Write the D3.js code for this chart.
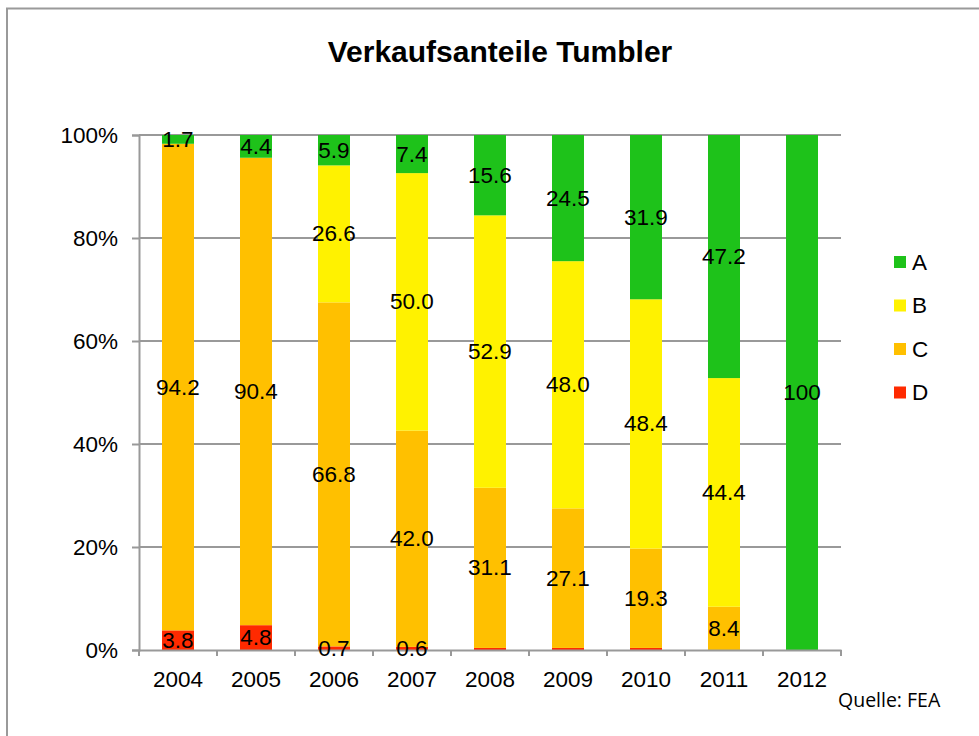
<!DOCTYPE html>
<html>
<head>
<meta charset="utf-8">
<script src="https://cdn.jsdelivr.net/npm/d3@7/dist/d3.min.js"></script>
<style>
    body { margin: 0; background: #fff; }
    svg text { font-family: "Liberation Sans", Arial, sans-serif; fill: #000; }
</style>
</head>
<body>
<div class="container"></div>
<script>
// chart values (percent shares per year)
var years = ["2004", "2005", "2006", "2007", "2008", "2009", "2010", "2011", "2012"];
var seriesNames = ["A", "B", "C", "D"];
var shareA = [1.7, 4.4, 5.9, 7.4, 15.6, 24.5, 31.9, 47.2, 100];
var shareB = [0, 0, 26.6, 50.0, 52.9, 48.0, 48.4, 44.4, 0];
var shareC = [94.2, 90.4, 66.8, 42.0, 31.1, 27.1, 19.3, 8.4, 0];
var shareD = [3.8, 4.8, 0.7, 0.6, 0.4, 0.4, 0.4, 0, 0];
var yTicks = [0, 0.2, 0.4, 0.6, 0.8, 1];
var seriesColors = ["#1ec21a", "#fff200", "#ffc000", "#ff2a00"];

var config = {
    width: 979,
    height: 736,
    plot: { left: 139, right: 841, top: 135, bottom: 650 },
    barWidth: 32,
    labelMin: 0.5,
    title: "Verkaufsanteile Tumbler",
    source: "Quelle: FEA"
};

var rows = years.map((year, i) => ({
    year: year,
    A: shareA[i],
    B: shareB[i],
    C: shareC[i],
    D: shareD[i]
}));

var color = d3.scaleOrdinal().domain(seriesNames).range(seriesColors);

// D at the bottom, A on top, every column scaled to 100%
var stacked = d3.stack()
    .keys(["D", "C", "B", "A"])
    .offset(d3.stackOffsetExpand)(rows);

var x = d3.scaleBand()
    .domain(years)
    .range([config.plot.left, config.plot.right])
    .padding(0);

var y = d3.scaleLinear()
    .domain([0, 1])
    .range([config.plot.bottom, config.plot.top]);

var svg = d3.select(".container").append("svg")
    .attr("width", config.width)
    .attr("height", config.height);

// outer chart frame
svg.append("rect")
    .attr("x", 7)
    .attr("y", 8.5)
    .attr("width", 1000)
    .attr("height", 1000)
    .attr("fill", "none")
    .attr("stroke", "#9a9a9a")
    .attr("stroke-width", 2);

svg.append("text")
    .attr("x", 500)
    .attr("y", 62)
    .attr("text-anchor", "middle")
    .style("font-size", "30px")
    .style("font-weight", "bold")
    .text(config.title);

// gridlines
svg.append("g")
    .selectAll("line")
    .data(yTicks.filter((d) => d > 0))
    .join("line")
    .attr("x1", config.plot.left)
    .attr("x2", config.plot.right)
    .attr("y1", (d) => y(d))
    .attr("y2", (d) => y(d))
    .attr("stroke", "#999")
    .attr("stroke-width", 2);

// bars
var layers = svg.append("g")
    .selectAll("g")
    .data(stacked)
    .join("g")
    .attr("fill", (d) => color(d.key));

layers.selectAll("rect")
    .data((d) => d)
    .join("rect")
    .attr("x", (d) => x(d.data.year) + (x.bandwidth() - config.barWidth) / 2)
    .attr("width", config.barWidth)
    .attr("y", (d) => y(d[1]))
    .attr("height", (d) => y(d[0]) - y(d[1]));

// y axis
var yAxis = svg.append("g")
    .attr("transform", `translate(${config.plot.left},0)`)
    .call(d3.axisLeft(y).tickValues(yTicks).tickFormat(d3.format(".0%")).tickSize(7).tickPadding(14));

// x axis
var xAxis = svg.append("g")
    .attr("transform", `translate(0,${config.plot.bottom})`)
    .call(d3.axisBottom(x).tickSize(0).tickPadding(21));

xAxis.selectAll(".boundary")
    .data(years.map((d) => x(d)).concat([config.plot.right]))
    .join("line")
    .attr("class", "boundary")
    .attr("x1", (d) => d)
    .attr("x2", (d) => d)
    .attr("y1", 0)
    .attr("y2", 6)
    .attr("stroke", "#999")
    .attr("stroke-width", 2);

[yAxis, xAxis].forEach((axis) => {
    axis.selectAll(".domain, .tick line").attr("stroke", "#999").attr("stroke-width", 2);
    axis.selectAll("text").style("font-size", "22.5px").style("font-family", "'Liberation Sans', Arial, sans-serif");
});

// data labels
var fmt = (v) => v >= 100 ? "100" : d3.format(".1f")(v);

var labels = svg.append("g");
stacked.forEach((layer) => {
    labels.selectAll(null)
        .data(layer.filter((d) => d.data[layer.key] >= config.labelMin))
        .join("text")
        .attr("x", (d) => x(d.data.year) + x.bandwidth() / 2)
        .attr("y", (d) => y((d[0] + d[1]) / 2))
        .attr("text-anchor", "middle")
        .attr("dominant-baseline", "central")
        .style("font-size", "22.5px")
        .text((d) => fmt(d.data[layer.key]));
});

// legend
var legend = svg.append("g")
    .selectAll("g")
    .data(seriesNames)
    .join("g")
    .attr("transform", (d, i) => `translate(894,${262 + i * 43.5})`);

legend.append("rect")
    .attr("x", 0)
    .attr("y", -6)
    .attr("width", 12)
    .attr("height", 12)
    .attr("fill", (d) => color(d));

legend.append("text")
    .attr("x", 18)
    .attr("y", 0)
    .attr("dominant-baseline", "central")
    .style("font-size", "22.5px")
    .text((d) => d);

svg.append("text")
    .attr("x", 838)
    .attr("y", 707)
    .style("font-family", "'Open Sans', sans-serif")
    .style("font-size", "19.5px")
    .text(config.source);
</script>
</body>
</html>
